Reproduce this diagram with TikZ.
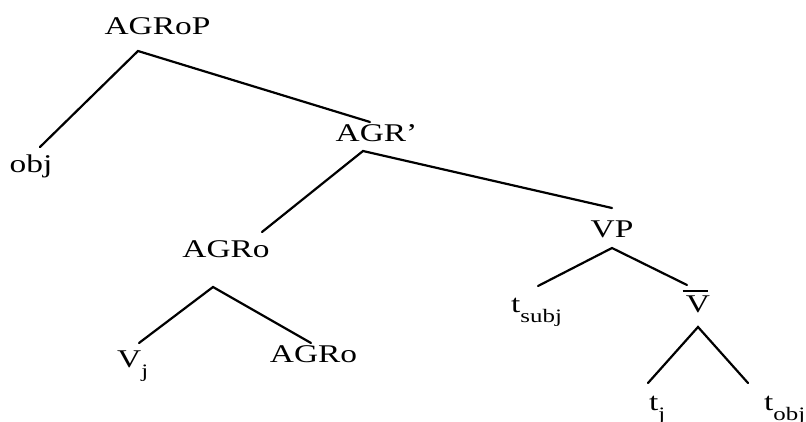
\documentclass[tikz,border=0pt]{standalone}
\usepackage{fontspec}
\setmainfont{Liberation Serif}[FakeStretch=1.31]
\newcommand\sbx[1]{\raisebox{-10pt}{\fontsize{19}{19}\selectfont #1}}
\begin{document}
\begin{tikzpicture}[x=1pt,y=-1pt,
  lbl/.style={inner sep=0pt,anchor=base,font=\fontsize{25.5}{30}\selectfont},
  lblw/.style={lbl,anchor=base west},
  edge/.style={line width=2.2pt,line cap=round}]
\useasboundingbox (0,0) rectangle (806,421);
\fill[white] (0,0) rectangle (806,421);
% labels
\node[lbl] (agrop) at (157.5,34.5) {AGRoP};
\node[lbl] (obj) at (31,172) {obj};
\node[lbl] (agrbar) at (376.5,141) {AGR’};
\node[lbl] (agro1) at (226,257.5) {AGRo};
\node[lbl] (agro2) at (313.5,362) {AGRo};
\node[lblw] (vj) at (117,367) {V\sbx{j}};
\node[lbl] (vp) at (612,237) {VP};
\node[lblw] (tsubj) at (511,312) {t\sbx{subj}};
\node[lbl] (vbar) at (698,312) {V};
\node[lblw] (tj) at (649,410) {t\sbx{j}};
\node[lblw] (tobj) at (764,410) {t\sbx{obj}};
% bar over V
\draw[line width=2.2pt] ([xshift=-3pt,yshift=4pt]vbar.north west) -- ([xshift=-2pt,yshift=4pt]vbar.north east);
% branch points
\coordinate (p1) at (138,51);
\coordinate (p1l) at (40,147);
\coordinate (p1r) at (370,122);
\coordinate (p2) at (363,151);
\coordinate (p2l) at (262,232);
\coordinate (p2r) at (612,208);
\coordinate (p3) at (213,287);
\coordinate (p3l) at (139,343);
\coordinate (p3r) at (311,343);
\coordinate (p4) at (612,248);
\coordinate (p4l) at (538,286);
\coordinate (p4r) at (687,285);
\coordinate (p5) at (698,327);
\coordinate (p5l) at (648,383);
\coordinate (p5r) at (748,383);
\draw[edge] (p1l) -- (p1) -- (p1r);
\draw[edge] (p2l) -- (p2) -- (p2r);
\draw[edge] (p3l) -- (p3) -- (p3r);
\draw[edge] (p4l) -- (p4) -- (p4r);
\draw[edge] (p5l) -- (p5) -- (p5r);
\end{tikzpicture}
\end{document}
